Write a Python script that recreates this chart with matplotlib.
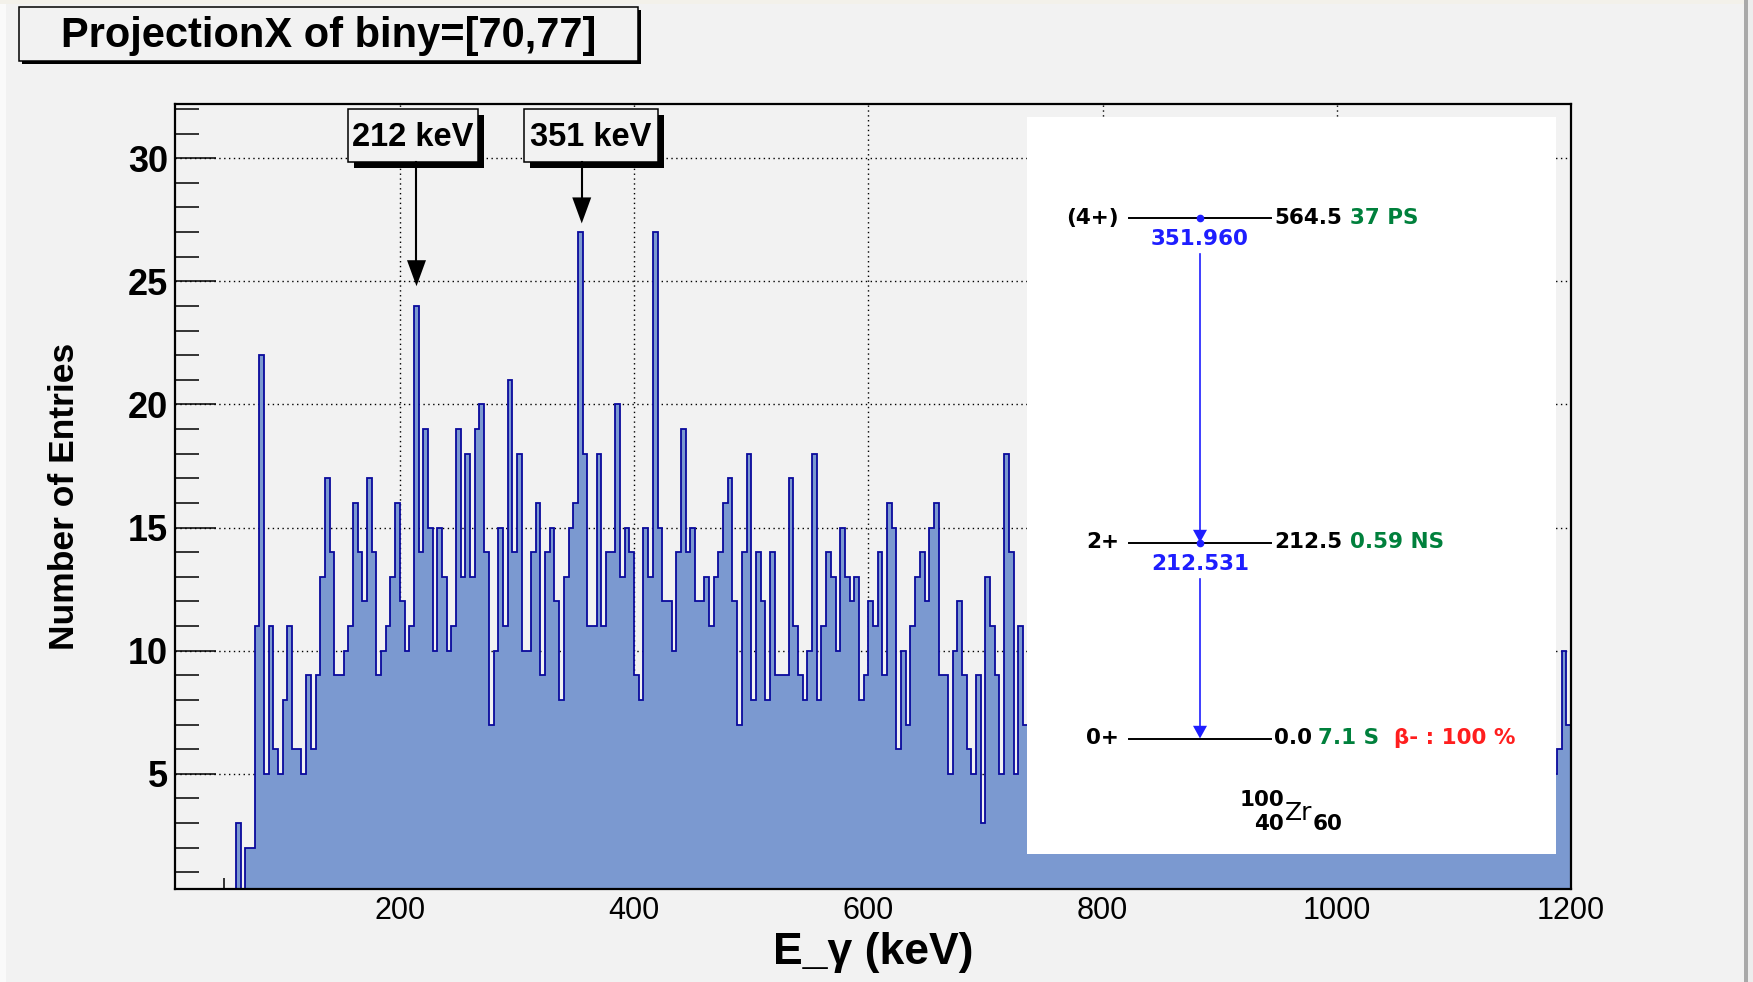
import numpy as np
import matplotlib
matplotlib.use('Agg')
import matplotlib.pyplot as plt
from matplotlib.patches import Rectangle, Polygon
from matplotlib.ticker import MultipleLocator

# ---- histogram data (4 keV bins) ----
bin_start = 8      # keV, left edge of first bin
bin_width = 4      # keV
empty_counts = [0, 0, 0, 0, 0, 0, 0, 0, 0, 0, 0, 0, 0]          # 8 - 56 keV
visible_counts = [3, 0, 2, 2, 11, 22, 5, 11, 6, 5,              # 60 - 96
                  8, 11, 6, 6, 5, 9, 6, 9, 13, 17,              # 100 - 136
                  14, 9, 9, 10, 11, 16, 14, 12, 17, 14,         # 140 - 176
                  9, 10, 11, 13, 16, 12, 10, 11, 24, 14,        # 180 - 216
                  19, 15, 10, 15, 13, 10, 11, 19, 13, 18,       # 220 - 256
                  13, 19, 20, 14, 7, 10, 15, 11, 21, 14,        # 260 - 296
                  18, 10, 10, 14, 16, 9, 14, 15, 12, 8,         # 300 - 336
                  13, 15, 16, 27, 18, 11, 11, 18, 11, 14,       # 340 - 376
                  14, 20, 13, 15, 14, 9, 8, 15, 13, 27,         # 380 - 416
                  15, 12, 12, 10, 14, 19, 14, 15, 12, 12,       # 420 - 456
                  13, 11, 13, 14, 16, 17, 12, 7, 14, 18,        # 460 - 496
                  8, 14, 12, 8, 14, 9, 9, 9, 17, 11,            # 500 - 536
                  9, 8, 10, 18, 8, 11, 14, 13, 10, 15,          # 540 - 576
                  13, 12, 13, 8, 9, 12, 11, 14, 9, 16,          # 580 - 616
                  15, 6, 10, 7, 11, 13, 14, 12, 15, 16,         # 620 - 656
                  9, 9, 5, 10, 12, 9, 6, 5, 9, 3,               # 660 - 696
                  13, 11, 9, 5, 18, 14, 5, 11, 7]               # 700 - 732
# bins behind the level-scheme picture (736 - 1180 keV), rough guesses
hidden_counts = [12, 9, 11, 8, 13, 10, 7, 12, 9, 10,
                 14, 8, 11, 9, 7, 12, 10, 8, 13, 9,
                 11, 6, 10, 12, 8, 9, 11, 7, 10, 13,
                 9, 8, 12, 10, 7, 11, 9, 6, 10, 8,
                 12, 9, 7, 11, 8, 10, 6, 9, 11, 8,
                 7, 10, 9, 12, 8, 6, 9, 10, 7, 11,
                 8, 9, 6, 10, 8, 7, 11, 9, 6, 8,
                 10, 7, 9, 8, 6, 10, 7, 9, 8, 5,
                 9, 7, 8, 10, 6, 8, 7, 9, 5, 8,
                 7, 6, 9, 8, 5, 7, 8, 6, 9, 7,
                 6, 8, 5, 7, 6, 8, 5, 7, 6, 5,
                 7, 6]
tail_counts = [5, 6, 10, 7]                                      # 1184 - 1196

counts = np.array(empty_counts + visible_counts + hidden_counts + tail_counts)
edges = bin_start + bin_width * np.arange(len(counts) + 1)

# peak markers
peak_labels = ['212 keV', '351 keV']
peak_energy = [214.2, 355.3]
peak_tip = [24.8, 27.35]

# level scheme of 100Zr
level_spin = ['(4+)', '2+', '0+']
level_energy = ['564.5', '212.5', '0.0']
level_halflife = ['37 PS', '0.59 NS', '7.1 S']
gamma_labels = ['351.960', '212.531']

W, H = 1753, 982
plt.rcParams['font.family'] = ['Liberation Sans', 'DejaVu Sans']

fig = plt.figure(figsize=(W / 100, H / 100), dpi=100, facecolor='#f2f2f2')

# main histogram axes
ax = fig.add_axes([175 / W, 1 - 889 / H, (1571 - 175) / W, (889 - 104) / H])
ax.set_facecolor('#f2f2f2')
ax.stairs(counts, edges, fill=True, color='#7b99d0', zorder=1)
ax.stairs(counts, edges, color='#0a0a9c', lw=1.3, baseline=0, zorder=2)
ax.set_xlim(8, 1200)
ax.set_ylim(0.32, 32.2)

ax.xaxis.set_major_locator(MultipleLocator(200))
ax.xaxis.set_minor_locator(MultipleLocator(50))
ax.set_yticks([5, 10, 15, 20, 25, 30])
ax.set_yticklabels(['5', '10', '15', '20', '25', '30'], fontweight='bold')
ax.yaxis.set_minor_locator(MultipleLocator(1))
ax.tick_params(which='both', direction='in', top=False, right=False, colors='k')
ax.tick_params(axis='y', which='major', length=29.5, width=1.1, pad=5, labelsize=26)
ax.tick_params(axis='y', which='minor', length=17, width=1.1)
ax.tick_params(axis='x', which='major', length=17, width=1.1, pad=5, labelsize=22)
ax.tick_params(axis='x', which='minor', length=8, width=1.1)
for s in ax.spines.values():
    s.set_linewidth(1.6)
ax.set_axisbelow(True)
ax.grid(True, which='major', color='k', linestyle=(0, (1, 2.5)), linewidth=1.0)

fig.text(65 / W, 1 - 496 / H, 'Number of Entries', rotation=90, ha='center',
         va='center', fontsize=25.5, fontweight='bold')
fig.text(873 / W, 1 - 964 / H, 'E_\u03b3 (keV)', ha='center', va='baseline',
         fontsize=32, fontweight='bold')

# overlay in pixel coordinates (y down)
ov = fig.add_axes([0, 0, 1, 1], zorder=5)
ov.set_xlim(0, W)
ov.set_ylim(H, 0)
ov.axis('off')

# window edges
ov.add_patch(Rectangle((0, 0), W, 4, color='#f3f1ea', lw=0))
ov.add_patch(Rectangle((0, 4), 6, H, color='#fafafa', lw=0))
ov.add_patch(Rectangle((1744, 0), 4, H, color='#a9a9a9', lw=0))
ov.add_patch(Rectangle((1748, 0), 5, H, color='#ededed', lw=0))


def boxed(x0, y0, x1, y1, shadow):
    ov.add_patch(Rectangle((x0 + shadow, y0 + shadow), x1 - x0, y1 - y0,
                           facecolor='k', edgecolor='k', lw=0))
    ov.add_patch(Rectangle((x0, y0), x1 - x0, y1 - y0, facecolor='#f2f2f2',
                           edgecolor='k', lw=1.1))


# title pave
boxed(19, 7, 638, 61, 3)
ov.text(328.5, 46.5, 'ProjectionX of biny=[70,77]', ha='center', va='baseline',
        fontsize=30, fontweight='bold')

# peak labels with arrows
box_x = [(348, 478), (524, 658)]
for lab, e, tip, (bx0, bx1) in zip(peak_labels, peak_energy, peak_tip, box_x):
    boxed(bx0, 109, bx1, 162, 6)
    ov.text((bx0 + bx1) / 2, 146, lab, ha='center', va='baseline',
            fontsize=23.5, fontweight='bold')
    px, py = ax.transData.transform((e, tip))
    py = H - py
    ov.plot([px, px], [162, py - 24], color='k', lw=1.5)
    ov.add_patch(Polygon([(px - 9.5, py - 26), (px + 9.5, py - 26), (px, py)],
                         closed=True, color='k', lw=0))

# level scheme picture
ov.add_patch(Rectangle((1027, 116.5), 1556 - 1027, 853.5 - 116.5,
                       facecolor='white', edgecolor='none'))
lev_y = [217.5, 542.5, 738.5]
green = '#00803c'
blue = '#1e1eff'
lfont = dict(family='DejaVu Sans', fontweight='bold', fontsize=15.5)
for spin, en, y in zip(level_spin, level_energy, lev_y):
    ov.plot([1129.5, 1271], [y, y], color='k', lw=1.4)
    ov.text(1119, y, spin, ha='right', va='center', **lfont)
    ov.text(1274, y, en, ha='left', va='center', **lfont)
hl_x = [1350, 1350, 1318]
for hl, x, y in zip(level_halflife, hl_x, lev_y):
    ov.text(x, y, hl, ha='left', va='center', color=green, **lfont)
ov.text(1394, lev_y[2], '\u03b2- : 100 %', ha='left', va='center',
        color='#ff1e1e', **lfont)

# gamma transitions
gx = 1200
gamma_from = [lev_y[0], lev_y[1]]
gamma_to = [lev_y[1], lev_y[2]]
gamma_label_y = [239, 564]
for lab, y0, y1, ly in zip(gamma_labels, gamma_from, gamma_to, gamma_label_y):
    ov.plot([gx], [y0], 'o', color=blue, ms=4.5)
    ov.text(gx, ly, lab, ha='center', va='center', color=blue, **lfont)
    ov.plot([gx, gx], [ly + 15, y1 - 11], color=blue, lw=1.2)
    ov.add_patch(Polygon([(gx - 7, y1 - 12.7), (gx + 7, y1 - 12.7), (gx, y1)],
                         closed=True, color=blue, lw=0))

# nuclide label
ov.text(1284, 800, '100', ha='right', va='center', **lfont)
ov.text(1284, 824, '40', ha='right', va='center', **lfont)
ov.text(1285, 813, 'Zr', ha='left', va='center', family='DejaVu Sans',
        fontsize=18)
ov.text(1313, 824, '60', ha='left', va='center', **lfont)

fig.savefig('out.png', dpi=100, facecolor=fig.get_facecolor())
